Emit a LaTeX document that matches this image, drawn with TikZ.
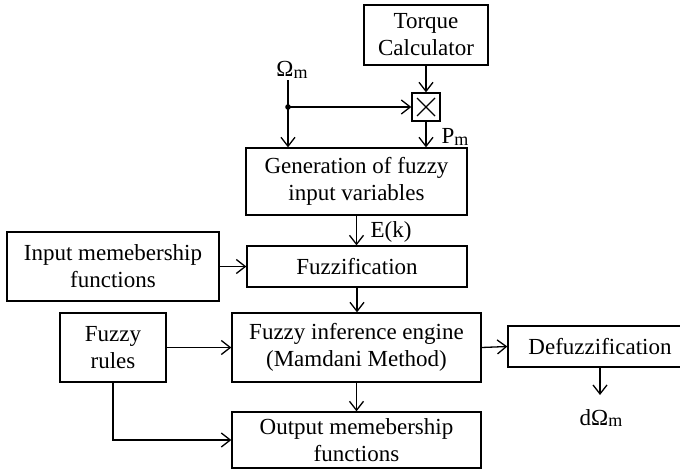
\documentclass[tikz,border=0pt]{standalone}
\usepackage{fontspec}
\setmainfont{Liberation Serif}
\usetikzlibrary{arrows.meta}

\newcommand{\subm}{\raisebox{-1.5pt}{\fontsize{18}{18}\selectfont m}}

\begin{document}
\begin{tikzpicture}[x=1pt,y=-1pt,
    font=\fontsize{23}{27}\selectfont,
    blk/.style={draw, line width=1.3pt, align=center, inner sep=0pt},
    arr/.style={line width=1.3pt, -{Straight Barb[length=9pt,width=14pt]}}]
\useasboundingbox (0,0) rectangle (680,471);

% blocks
\node[blk, minimum width=124, minimum height=60] (torque) at (426,35) {Torque\\Calculator};
\node[blk, minimum width=28, minimum height=28] (mult) at (426,107) {};
\node[blk, minimum width=221, minimum height=67] (gen) at (356.5,181.5) {Generation of fuzzy\\input variables};
\node[blk, minimum width=212, minimum height=69] (inmf) at (113,266.5) {Input memebership\\functions};
\node[blk, minimum width=220, minimum height=41] (fuzz) at (357,266.5) {Fuzzification};
\node[blk, minimum width=106, minimum height=69] (rules) at (113,347.5) {Fuzzy\\rules};
\node[blk, minimum width=249, minimum height=69] (infer) at (356.5,347.5) {Fuzzy inference engine\\(Mamdani Method)};
\node[blk, minimum width=184, minimum height=41] (defuzz) at (600,346.5) {Defuzzification};
\node[blk, minimum width=249, minimum height=56] (outmf) at (356.5,440) {Output memebership\\functions};

% multiplier cross
\draw[line width=1.3pt] (mult.center) +(-9,-9) -- +(9,9) +(-9,9) -- +(9,-9);

% labels
\node (omega) at (292,70) {Ω\subm};
\node (pm) at (455,137) {P\subm};
\node (ek) at (391,232) {E(k)};
\node (domega) at (601,418) {dΩ\subm};
\coordinate (wtop) at (288,80);
\coordinate (wdot) at (288,107);
\coordinate (dout) at (600,395);

% connectors
\draw[arr] (wtop) -- (wtop |- gen.north);
\fill (wdot) circle (2.8);
\draw[arr] (wdot) -- (mult.west);
\draw[arr] (torque.south) -- (mult.north);
\draw[arr] (mult.south) -- (mult.south |- gen.north);
\draw[arr] (gen.south) -- (gen.south |- fuzz.north);
\draw[arr] (inmf.east) -- (fuzz.west);
\draw[arr] (fuzz.south) -- (fuzz.south |- infer.north);
\draw[arr] (rules.east) -- (infer.west);
\draw[arr] (rules.south) |- (outmf.west);
\draw[arr] (infer.south) -- (outmf.north);
\draw[arr] (infer.east) -- (defuzz.west);
\draw[arr] (defuzz.south) -- (dout);
\end{tikzpicture}
\end{document}
